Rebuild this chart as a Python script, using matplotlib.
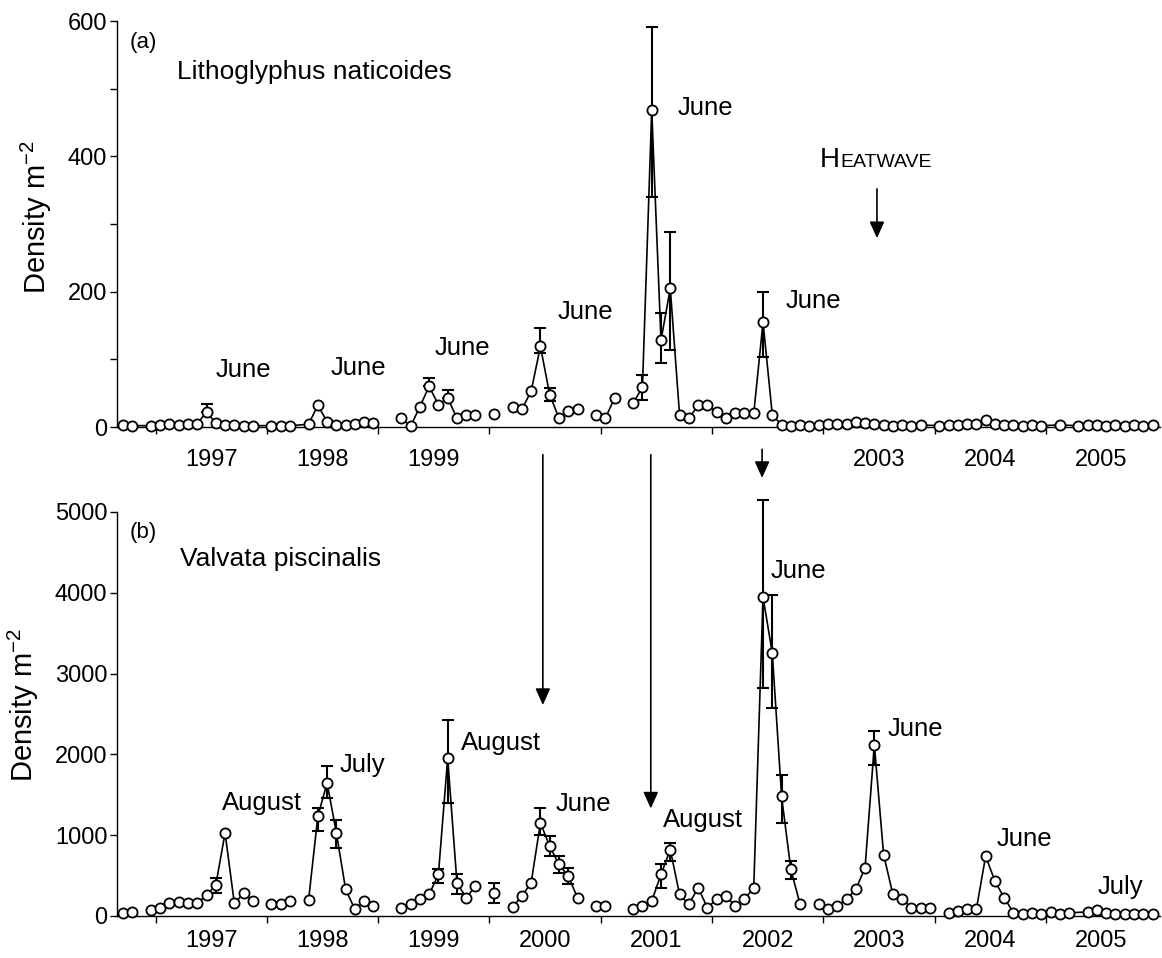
import numpy as np
import matplotlib
matplotlib.use("Agg")
import matplotlib.pyplot as plt

plt.rcParams['font.family'] = ['Liberation Sans', 'DejaVu Sans']
nan = np.nan

# ---- data: sampling months counted from January 1997 (negative = 1996) ----
# NaN entries mark breaks in the plotted line
months_a = ([-4, -3, -1, 0, 1, 2, 3, 4, 5, 6, 7, 8, 9, 10, 12, 13, 14, 16, 17, 18, 19, 20, 21, 22, 23, 24.5]
            + list(range(26, 35)) + [35, 36, 37] + list(range(38, 46)) + [46, 47, 48, 49, 50]
            + list(range(51, 83)) + list(range(84, 96)) + [97] + list(range(99, 108)))
dens_a = [3, 2, 2, 3, 4, 3, 5, 5, 22, 6, 3, 3, 2, 2, 2, 2, 2, 4, 32, 8, 3, 3, 4, 8, 6, nan,
          13, 1, 30, 60, 33, 43, 13, 17, 17, nan, 19, nan,
          30, 26, 53, 119, 48, 13, 23, 26, nan, 18, 13, 43, nan,
          35, 59, 468, 128, 205, 18, 13, 32, 32, 22, 13, 20, 20, 20, 155, 18, 3,
          2, 3, 2, 3, 5, 4, 5, 8, 6, 4, 3, 2, 3, 2, 3,
          2, 3, 3, 4, 5, 10, 5, 3, 3, 2, 3, 2,
          3,
          2, 3, 3, 2, 3, 2, 3, 2, 3]
err_months_a = [5, 29, 31, 41, 42, 52, 53, 54, 55, 65]
err_up_a = [12, 12, 11, 27, 10, 18, 123, 40, 83, 45]
err_dn_a = [0, 0, 0, 10, 10, 19, 128, 34, 91, 51]

months_b = ([-4, -3, -2] + list(range(-1, 11)) + [11, 12, 13, 14, 15] + list(range(16, 24)) + [24.5]
            + list(range(26, 35)) + [35, 36, 37] + list(range(38, 46)) + [46, 47, 48, 49.5]
            + list(range(51, 70)) + [70] + list(range(71, 84)) + [84] + list(range(85, 99))
            + list(range(100, 108)))
dens_b = [33, 53, nan,
          74, 95, 165, 177, 156, 156, 260, 383, 1029, 156, 280, 190,
          nan, 144, 144, 185, nan,
          193, 1235, 1646, 1029, 329, 82, 185, 123,
          nan,
          103, 144, 206, 267, 514, 1955, 411, 226, 370,
          nan, 288, nan,
          111, 247, 411, 1152, 864, 638, 494, 226,
          nan, 123, 123, nan,
          82, 123, 185, 514, 823, 267, 144, 350, 103, 206, 247, 123, 206, 350, 3950, 3251, 1481, 576, 144,
          nan,
          144, 82, 123, 206, 329, 597, 2119, 761, 267, 206, 103, 103, 103,
          nan,
          41, 62, 82, 82, 741, 432, 226, 41, 30, 40, 30, 50, 30, 40,
          50, 70, 40, 30, 30, 30, 30, 30]
err_months_b = [6, 17, 18, 19, 30, 31, 32, 36, 41, 42, 43, 44, 54, 55, 65, 66, 67, 68, 77]
err_up_b = [82, 100, 206, 164, 62, 473, 103, 123, 185, 120, 100, 100, 124, 82, 1200, 720, 268, 103, 165]
err_dn_b = [100, 185, 186, 185, 103, 555, 144, 123, 150, 120, 100, 100, 164, 144, 1130, 680, 329, 123, 247]

years_b = [str(y) for y in range(1997, 2006)]
years_a = ['1997', '1998', '1999', '2003', '2004', '2005']

# month labels: (text, decimal year, value)
labels_a = [('June', 1997.786, 84), ('June', 1998.819, 87), ('June', 1999.754, 117),
            ('June', 2000.859, 170), ('June', 2001.937, 471), ('June', 2002.907, 186)]
labels_b = [('August', 1997.957, 1398), ('July', 1998.855, 1869), ('August', 2000.104, 2141),
            ('June', 2000.841, 1386), ('August', 2001.919, 1188), ('June', 2002.773, 4270),
            ('June', 2003.824, 2314), ('June', 2004.803, 953), ('July', 2005.666, 359)]


def to_year(m):
    return 1997 + (np.asarray(m, float) + 0.5) / 12.0


fig = plt.figure(figsize=(11.62, 9.58), dpi=100)
axa = fig.add_axes([117 / 1162, 1 - 427 / 958, 1043 / 1162, 406 / 958])
axb = fig.add_axes([117 / 1162, 1 - 916 / 958, 1043 / 1162, 404 / 958])


def draw(ax, months, dens, em, eu, ed):
    x = to_year(months)
    y = np.array(dens, float)
    lookup = dict(zip(months, dens))
    ex = to_year(em)
    ey = np.array([lookup[m] for m in em], float)
    cont = ax.errorbar(ex, ey, yerr=[ed, eu], fmt='none', ecolor='black',
                       elinewidth=1.5, capsize=4, capthick=1.5, zorder=2)
    for ch in cont.get_children():
        ch.set_clip_on(False)
    ax.plot(x, y, '-', color='black', lw=1.2, zorder=3, clip_on=False)
    ax.plot(x, y, 'o', ms=7.3, mfc='white', mec='black', mew=1.3, zorder=4, clip_on=False)


draw(axa, months_a, dens_a, err_months_a, err_up_a, err_dn_a)
draw(axb, months_b, dens_b, err_months_b, err_up_b, err_dn_b)

x0, x1 = 1996.654, 2006.025
for ax in (axa, axb):
    ax.spines['top'].set_visible(False)
    ax.spines['right'].set_visible(False)
    for s in ('left', 'bottom'):
        ax.spines[s].set_linewidth(1.0)
    ax.set_xlim(x0, x1)
    ax.set_xticks(np.arange(1997, 2006), labels=[])
    ax.tick_params(axis='x', which='major', direction='out', length=5, width=1.0)
    ax.tick_params(axis='y', direction='out', length=5, width=1.0, pad=2, labelsize=17)

axa.set_ylim(0, 600)
axa.set_yticks(range(0, 700, 100), labels=['0', '', '200', '', '400', '', '600'])
axa.set_xticks([int(y) + 0.5 for y in years_a], labels=years_a, minor=True)
axa.tick_params(axis='x', which='minor', length=0, pad=16, labelsize=17)

axb.set_ylim(0, 5000)
axb.set_yticks(range(0, 6000, 1000), labels=[str(v) for v in range(0, 6000, 1000)])
axb.set_xticks([int(y) + 0.5 for y in years_b], labels=years_b, minor=True)
axb.tick_params(axis='x', which='minor', length=0, pad=10, labelsize=17)

ylab = r'Density m$^{\mathregular{-2}}$'
axa.set_ylabel(ylab, fontsize=21)
axa.yaxis.set_label_coords(-0.060, 0.517)
axb.set_ylabel(ylab, fontsize=21)
axb.yaxis.set_label_coords(-0.073, 0.522)

axa.text(0.025, 0.948, '(a)', transform=axa.transAxes, fontsize=16, ha='center', va='center')
axa.text(0.0575, 0.874, 'Lithoglyphus naticoides', transform=axa.transAxes, fontsize=19,
         ha='left', va='center')
axb.text(0.025, 0.950, '(b)', transform=axb.transAxes, fontsize=16, ha='center', va='center')
axb.text(0.0604, 0.884, 'Valvata piscinalis', transform=axb.transAxes, fontsize=19,
         ha='left', va='center')

for t, xx, yy in labels_a:
    axa.text(xx, yy, t, fontsize=18.5, ha='center', va='center')
for t, xx, yy in labels_b:
    axb.text(xx, yy, t, fontsize=18.5, ha='center', va='center')

# Heatwave label (small caps) and arrow
axa.text(2003.150, 384, 'H', fontsize=20, ha='right', va='baseline')
axa.text(2003.150, 384, 'EATWAVE', fontsize=14, ha='left', va='baseline')
aprops = dict(arrowstyle='-|>,head_length=1.0,head_width=0.45', mutation_scale=10,
              lw=1.2, color='black', shrinkA=0, shrinkB=0)
axa.annotate('', xy=(2003.482, 279), xytext=(2003.482, 352), arrowprops=aprops,
             annotation_clip=False)

# arrows from panel (a) to panel (b)
arrow_x = [2000.48, 2001.45, 2002.45]
arrow_from = [-41, -41, -33]
arrow_to = [2611, 1330, 5421]
for xx, ya, yb in zip(arrow_x, arrow_from, arrow_to):
    axb.annotate('', xy=(xx, yb), xycoords='data', xytext=(xx, ya), textcoords=axa.transData,
                 arrowprops=aprops, annotation_clip=False)

fig.savefig('out.png', dpi=100)
